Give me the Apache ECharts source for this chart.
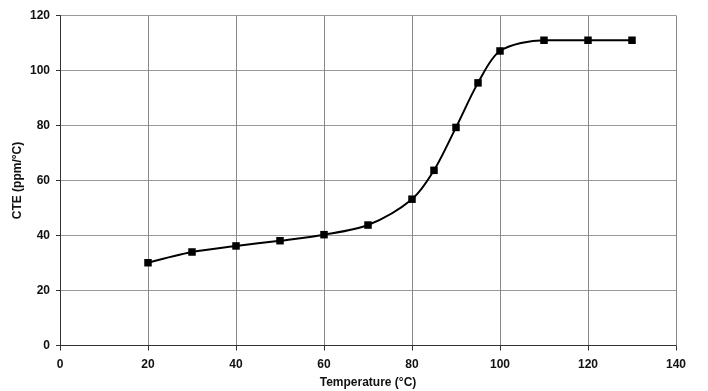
<!DOCTYPE html>
<html><head><meta charset="utf-8">
<script src="https://cdn.jsdelivr.net/npm/echarts@6/dist/echarts.min.js"></script>
<style>html,body{margin:0;padding:0;background:#fff}#c{width:708px;height:391px}</style>
</head><body><div id="c"></div>
<script>
const temperature = [20, 30, 40, 50, 60, 70, 80, 85, 90, 95, 100, 110, 120, 130];
const cte = [30.1, 34, 36.2, 38.1, 40.3, 43.8, 53.2, 63.7, 79.3, 95.5, 107.1, 111, 111, 111];
const xTitle = 'Temperature (°C)';
const yTitle = 'CTE (ppm/°C)';

const chart = echarts.init(document.getElementById('c'));
const font = 'Liberation Sans, Arial, sans-serif';
chart.setOption({
  animation: false,
  grid: { left: 60, right: 32, top: 15.5, bottom: 45.5, show: false, outerBoundsMode: 'none', containLabel: false },
  xAxis: {
    type: 'value', min: 0, max: 140, interval: 20,
    name: xTitle, nameLocation: 'middle', nameGap: 31, nameMoveOverlap: false,
    nameTextStyle: { fontFamily: font, fontWeight: 'bold', fontSize: 12, color: '#111' },
    axisLine: { show: true, lineStyle: { color: '#333', width: 1 } },
    axisTick: { show: true, length: 5, lineStyle: { color: '#333' } },
    axisLabel: { fontFamily: font, fontWeight: 'bold', fontSize: 12, color: '#111', margin: 13 },
    splitLine: { show: true, lineStyle: { color: '#888', width: 1 } }
  },
  yAxis: {
    type: 'value', min: 0, max: 120, interval: 20,
    name: yTitle, nameLocation: 'middle', nameGap: 36, nameRotate: 90, nameMoveOverlap: false,
    nameTextStyle: { fontFamily: font, fontWeight: 'bold', fontSize: 12, color: '#111' },
    axisLine: { show: true, lineStyle: { color: '#333', width: 1 } },
    axisTick: { show: true, length: 4, lineStyle: { color: '#333' } },
    axisLabel: { fontFamily: font, fontWeight: 'bold', fontSize: 12, color: '#111', margin: 10 },
    splitLine: { show: true, lineStyle: { color: '#999', width: 1 } }
  },
  series: [{
    type: 'line',
    data: temperature.map((t, i) => [t, cte[i]]),
    smooth: 0.3,
    symbol: 'rect', symbolSize: 7.5,
    lineStyle: { color: '#000', width: 2 },
    itemStyle: { color: '#000' }
  }]
});
</script></body></html>
